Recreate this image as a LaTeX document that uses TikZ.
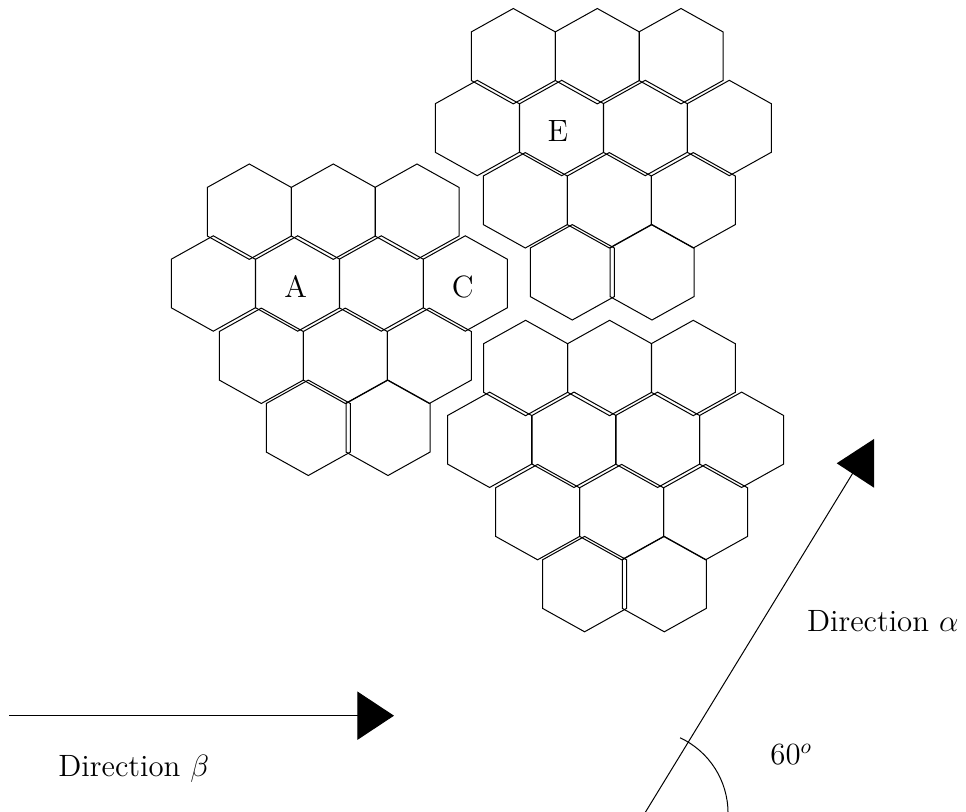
\documentclass[tikz,border=0pt]{standalone}
\usetikzlibrary{arrows.meta}
\newcommand\hexcluster{%
  \foreach \cx/\cy in {249.3/211.7, 333.3/211.7, 417.0/211.7,
     213.3/283.5, 297.7/283.5, 381.3/283.5, 465.3/283.5,
     261.3/355.8, 345.3/355.8, 429.3/355.8,
     308.3/427.8, 388.0/427.8}
  {\draw[hexedge] (\cx,\cy) ++(0,-47.7) -- ++(42,23.4) -- ++(0,48.6) -- ++(-42,23.4) -- ++(-42,-23.4) -- ++(0,-48.6) -- cycle;}}
\begin{document}
\begin{tikzpicture}[x=0.5pt,y=-0.5pt,
  hexedge/.style={line width=0.5pt, line join=miter},
  lbl/.style={font=\fontsize{14.4}{17}\selectfont, inner sep=0pt, scale=1.07, transform shape},
  dirline/.style={line width=0.5pt},
  headfill/.style={fill=black, draw=none}]
\useasboundingbox (0,0) rectangle (966,812);
% three hexagon clusters
\begin{scope}\hexcluster\end{scope}
\begin{scope}[shift={(264,-155.5)}]\hexcluster\end{scope}
\begin{scope}[shift={(276.3,156.3)}]\hexcluster\end{scope}
% cell labels
\node[lbl] (labA) at (295.8,286.2) {A};
\node[lbl] (labC) at (462.8,286.7) {C};
\node[lbl] (labE) at (558.0,130.7) {E};
% direction beta
\coordinate (b0) at (9.3,715.7);
\coordinate (b1) at (394,715.7);
\draw[dirline,-{Triangle[length=18.35pt,width=24.15pt]}] (b0) -- (b1);
\node[lbl, anchor=base west] (labB) at (58,776.7) {Direction $\beta$};
% direction alpha
\coordinate (a0) at (644.3,814);
\coordinate (a1) at (852.7,473.3);
\draw[dirline] (a0) -- (a1);
\coordinate (t1) at (836.7,463.3);
\coordinate (t2) at (874,439);
\coordinate (t3) at (874,487.7);
\fill[headfill] (t1) -- (t2) -- (t3) -- cycle;
\node[lbl, anchor=base west] (labAl) at (806.7,631.7) {Direction $\alpha$};
% angle
\coordinate (arcs) at (680.1,737.8);
\draw[dirline] (arcs) arc[start angle=-65, end angle=0, radius=83];
\node[lbl, anchor=base west] (lab60) at (770,764.3) {$60^o$};
\end{tikzpicture}
\end{document}
